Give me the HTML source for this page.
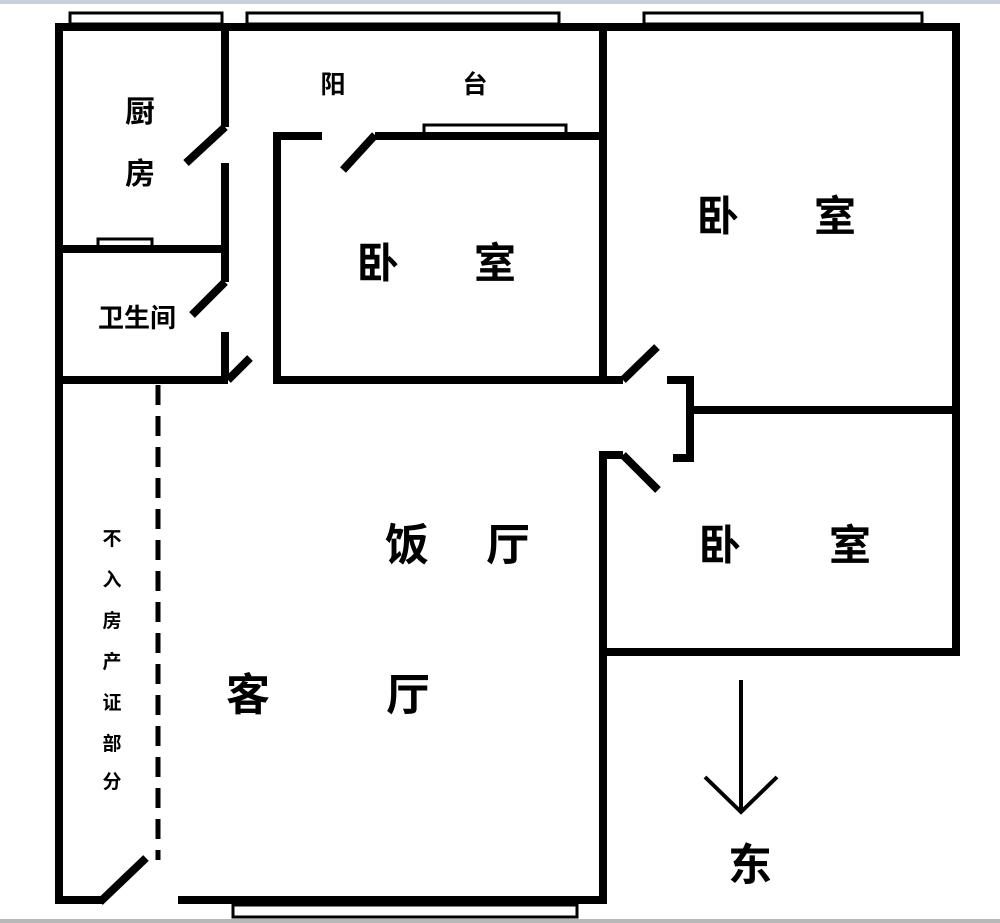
<!DOCTYPE html>
<html><head><meta charset="utf-8"><style>
html,body{margin:0;padding:0;background:#fff}
svg{display:block}
text{font-family:"Liberation Sans","Noto Sans CJK SC",sans-serif;font-weight:bold;fill:#000}
</style></head><body>
<svg width="1000" height="923" viewBox="0 0 1000 923">
<rect x="0" y="0" width="1000" height="4" fill="#c9d0dc"/>
<rect x="0" y="919" width="1000" height="4" fill="#b8b8b8"/>
<g fill="#fff" stroke="#000" stroke-width="3">
<rect x="70" y="13" width="152" height="11"/>
<rect x="247" y="13" width="312" height="11"/>
<rect x="644" y="13" width="278" height="11"/>
<rect x="98" y="239" width="54" height="8"/>
<rect x="424" y="125" width="142" height="9"/>
<rect x="233" y="905" width="344" height="12"/>
</g>
<g stroke="#000" stroke-width="8" fill="none" stroke-linecap="butt">
<!-- outer -->
<line x1="55" y1="27" x2="960" y2="27"/>
<line x1="59" y1="23" x2="59" y2="904"/>
<line x1="956" y1="23" x2="956" y2="656"/>
<line x1="55" y1="900" x2="102" y2="900"/>
<line x1="100" y1="902" x2="146" y2="858"/>
<line x1="178" y1="900" x2="607" y2="900"/>
<!-- kitchen/bath -->
<line x1="225" y1="27" x2="225" y2="127"/>
<line x1="225" y1="127" x2="186" y2="163"/>
<line x1="225" y1="163" x2="225" y2="252"/>
<line x1="59" y1="249" x2="225" y2="249"/>
<line x1="225" y1="252" x2="225" y2="282"/>
<line x1="225" y1="282" x2="192" y2="315"/>
<line x1="225" y1="332" x2="225" y2="380"/>
<line x1="59" y1="380" x2="228" y2="380"/>
<line x1="228" y1="380" x2="250" y2="358"/>
<!-- bedroom 1 -->
<line x1="277" y1="136" x2="322" y2="136"/>
<line x1="277" y1="132" x2="277" y2="384"/>
<line x1="375" y1="135" x2="343" y2="170"/>
<line x1="375" y1="136" x2="603" y2="136"/>
<line x1="603" y1="27" x2="603" y2="384"/>
<line x1="273" y1="380" x2="623" y2="380"/>
<line x1="623" y1="380" x2="657" y2="347"/>
<!-- bracket -->
<polyline points="667,380 690,380 690,458 673,458"/>
<line x1="690" y1="410" x2="956" y2="410"/>
<!-- bedroom 3 -->
<line x1="603" y1="451" x2="603" y2="904"/>
<line x1="603" y1="455" x2="623" y2="455"/>
<line x1="623" y1="455" x2="658" y2="490"/>
<line x1="603" y1="652" x2="960" y2="652"/>
</g>
<line x1="158" y1="385" x2="158" y2="860" stroke="#000" stroke-width="5" stroke-dasharray="20,11"/>
<g stroke="#000" stroke-width="4" fill="none">
<line x1="741" y1="680" x2="741" y2="812"/>
<polyline points="705,777 741,812 777,777"/>
</g>
<g text-anchor="middle">
<text x="333" y="93" font-size="25" font-weight="normal">阳</text>
<text x="475" y="93" font-size="25" font-weight="normal">台</text>
<text x="140" y="122" font-size="30">厨</text>
<text x="140" y="184" font-size="30">房</text>
<text x="137" y="327" font-size="26">卫生间</text>
<text x="378" y="278" font-size="42">卧</text>
<text x="495" y="278" font-size="42">室</text>
<text x="718" y="231" font-size="42">卧</text>
<text x="835" y="231" font-size="42">室</text>
<text x="720" y="560" font-size="42">卧</text>
<text x="850" y="560" font-size="42">室</text>
<text x="407" y="560" font-size="44">饭</text>
<text x="508" y="560" font-size="44">厅</text>
<text x="248" y="710" font-size="44">客</text>
<text x="408" y="710" font-size="44">厅</text>
<text x="750" y="880" font-size="44">东</text>
<g font-size="19">
<text x="112" y="545">不</text>
<text x="112" y="586">入</text>
<text x="112" y="627">房</text>
<text x="112" y="668">产</text>
<text x="112" y="709">证</text>
<text x="112" y="750">部</text>
<text x="112" y="788">分</text>
</g>
</g>
</svg>
</body></html>
